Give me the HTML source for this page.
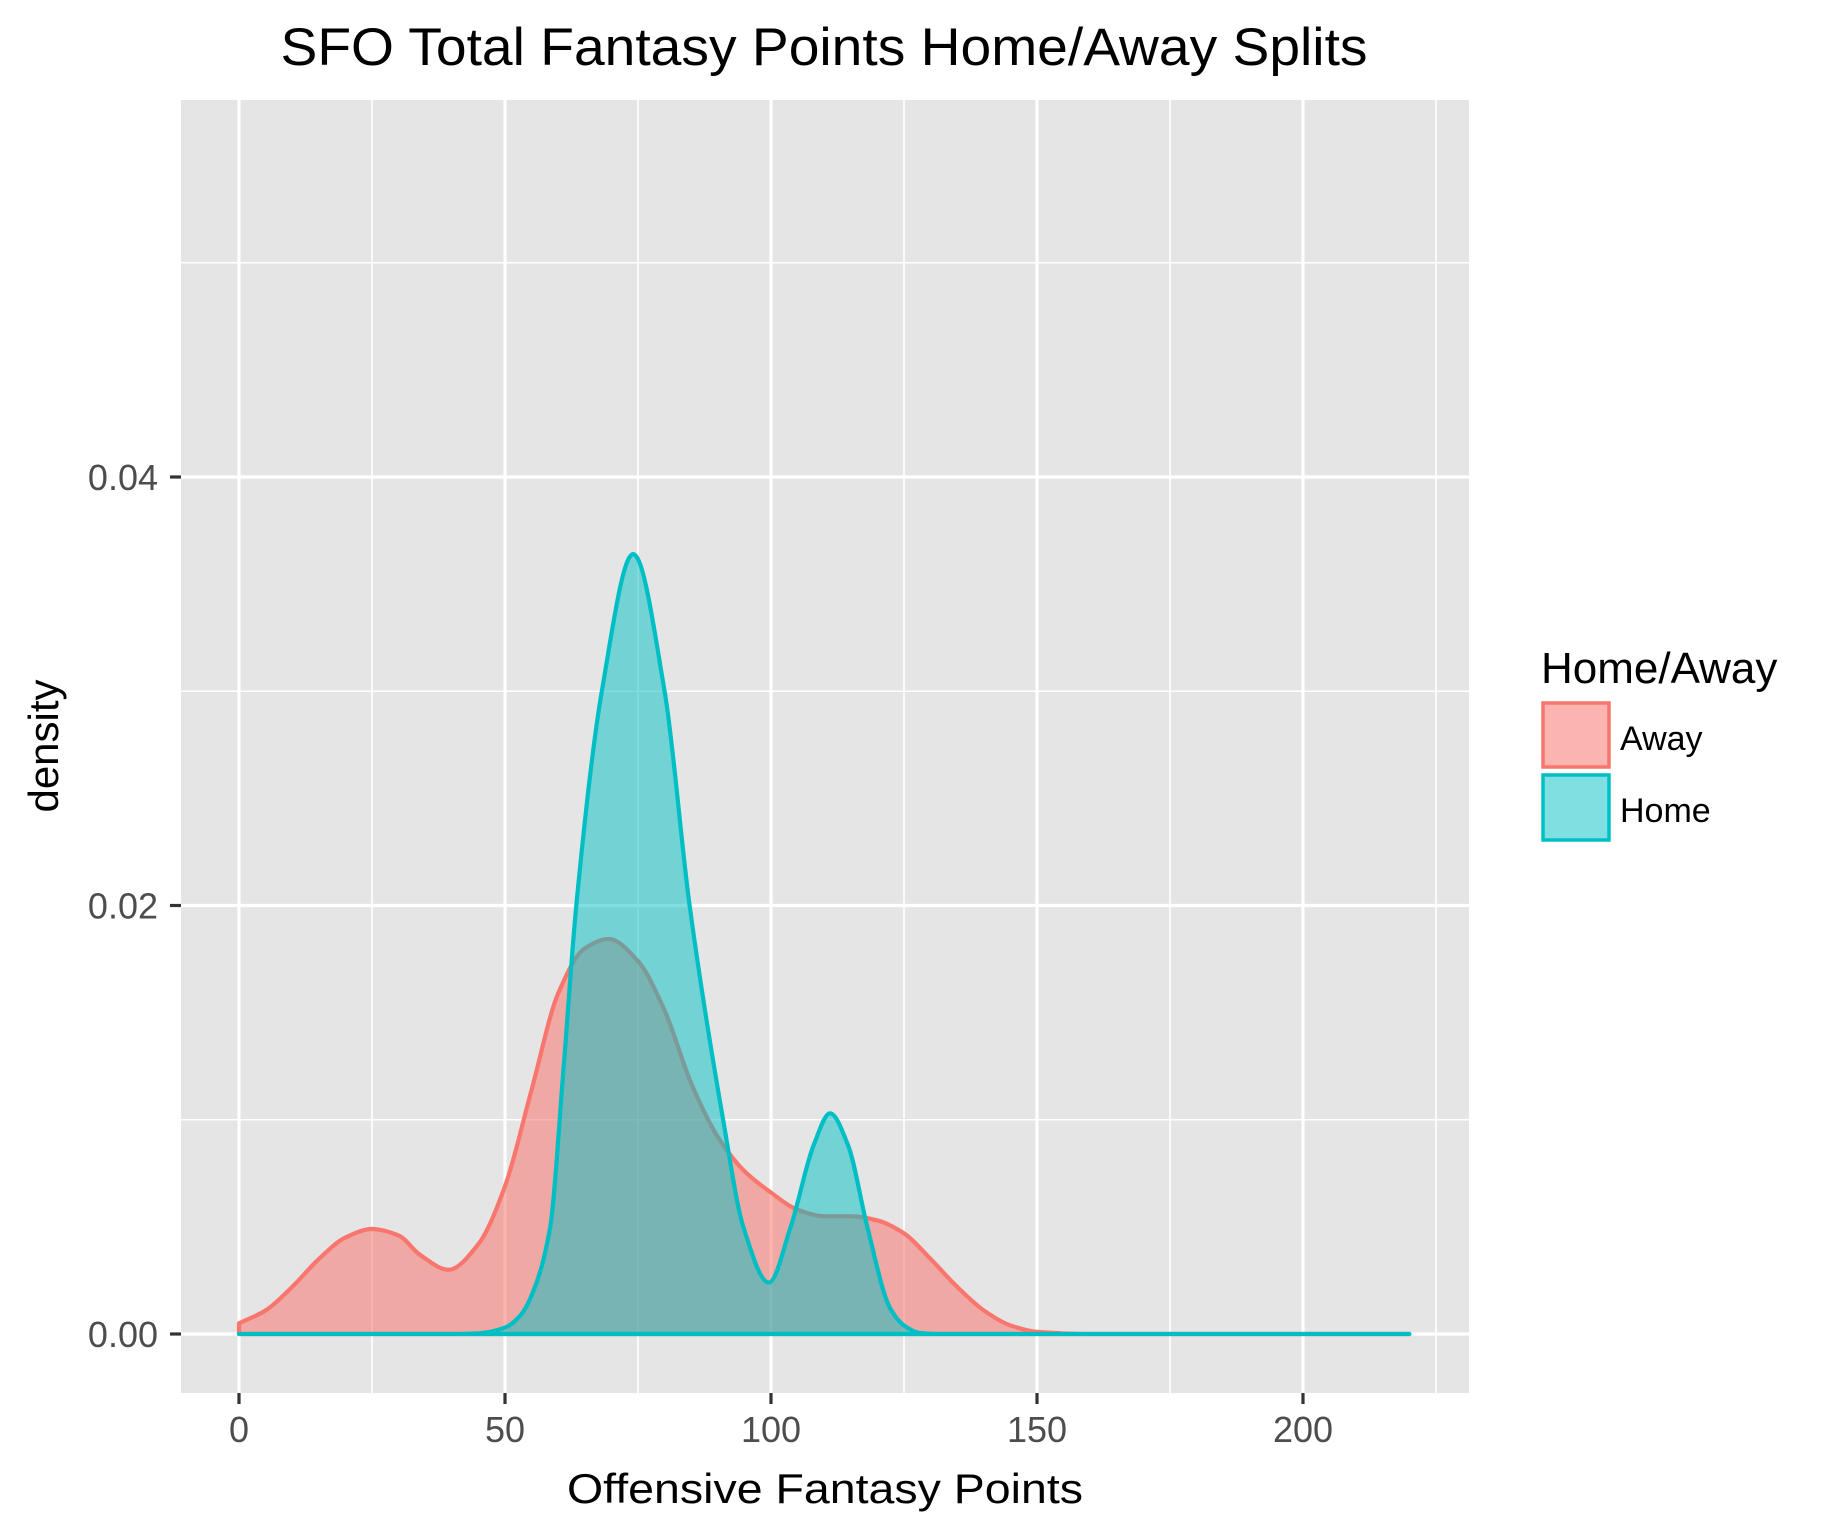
<!DOCTYPE html>
<html><head><meta charset="utf-8"><style>
html,body{margin:0;padding:0;background:#fff;}
svg{display:block;font-family:"Liberation Sans",Arial,sans-serif;}
</style></head><body>
<svg id="chart" width="1833" height="1529" viewBox="0 0 1833 1529" xmlns="http://www.w3.org/2000/svg">
<text x="824" y="65" font-size="53" text-anchor="middle" textLength="1087" lengthAdjust="spacingAndGlyphs" fill="#000">SFO Total Fantasy Points Home/Away Splits</text>
<rect x="181" y="100" width="1288" height="1293" fill="#E5E5E5"/>
<g id="grid"></g>
<g id="series"></g>
<g id="axes"></g>
<text x="825" y="1503" font-size="42" text-anchor="middle" textLength="516" lengthAdjust="spacingAndGlyphs" fill="#000">Offensive Fantasy Points</text>
<text x="0" y="0" font-size="42" text-anchor="middle" transform="translate(58,746) rotate(-90)" fill="#000">density</text>
<g>
<text x="1541" y="683" font-size="44" fill="#000">Home/Away</text>
<rect x="1543" y="703" width="66" height="64" fill="#F8766D" fill-opacity="0.55" stroke="#F8766D" stroke-width="3.5"/>
<text x="1620" y="750" font-size="34" fill="#000">Away</text>
<rect x="1543" y="775" width="66" height="65" fill="#00BFC4" fill-opacity="0.5" stroke="#00BFC4" stroke-width="3.5"/>
<text x="1620" y="822" font-size="34" fill="#000">Home</text>
</g>
</svg>
<script>
const awayX = [0,5,10,15,20,25,30,34,39.4,45,50,55,60,65,69.5,75,80,85,90,95,100,105,110,115,120,125,130,135,140,145,150,160,220];
const awayY = [0.0005,0.0011,0.0022,0.0035,0.0045,0.0049,0.0046,0.0037,0.0030,0.0042,0.0069,0.0114,0.0159,0.0180,0.01844,0.0174,0.0151,0.0117,0.0092,0.0076,0.0066,0.0058,0.0055,0.0055,0.0053,0.0047,0.0035,0.0022,0.0011,0.0004,0.0001,0,0];
const homeX = [0,40,45,50,53,55,58.5,61,63.4,68.2,74.1,80,84.7,91,94.8,99.6,103.7,108,111.1,114.5,118.1,122.4,125,128,132,220];
const homeY = [0,0,0.00003,0.0003,0.0009,0.0018,0.005,0.0124,0.020,0.030,0.0364,0.030,0.020,0.010,0.005,0.0024,0.005,0.0088,0.0103,0.0088,0.005,0.0012,0.0004,0.00005,0,0];
const xTicks = [0,50,100,150,200];
const xTickLabels = ["0","50","100","150","200"];
const xMinor = [25,75,125,175,225];
const yTicks = [0,0.02,0.04];
const yTickLabels = ["0.00","0.02","0.04"];
const yMinor = [0.01,0.03,0.05];

const NS = "http://www.w3.org/2000/svg";
const PX = {l:181, r:1469, t:100, b:1393};
function xs(v){ return 239 + v * 5.32; }
function ys(v){ return 1334 - v * 21425; }
function mk(tag, attrs, parent){
  const e = document.createElementNS(NS, tag);
  for (const k in attrs) e.setAttribute(k, attrs[k]);
  parent.appendChild(e);
  return e;
}
const grid = document.getElementById('grid');
xMinor.forEach(v => {
  const l = mk('line', {x1:xs(v), x2:xs(v), y1:PX.t, y2:PX.b, stroke:'#fff', 'stroke-width':1.6}, grid);
  
  
});
yMinor.forEach(v => {
  const l = mk('line', {x1:PX.l, x2:PX.r, y1:ys(v), y2:ys(v), stroke:'#fff', 'stroke-width':1.6}, grid);
  
  
});
xTicks.forEach(v => {
  const l = mk('line', {x1:xs(v), x2:xs(v), y1:PX.t, y2:PX.b, stroke:'#fff', 'stroke-width':3.2}, grid);
  
  
});
yTicks.forEach(v => {
  const l = mk('line', {x1:PX.l, x2:PX.r, y1:ys(v), y2:ys(v), stroke:'#fff', 'stroke-width':3.2}, grid);
  
  
});

function curvePath(X, Y){
  const px = X.map(xs), py = Y.map(ys);
  const n = px.length;
  const d = [], m = new Array(n);
  for (let i = 0; i < n-1; i++) d.push((py[i+1]-py[i])/(px[i+1]-px[i]));
  m[0] = d[0]; m[n-1] = d[n-2];
  for (let i = 1; i < n-1; i++){
    if (d[i-1]*d[i] <= 0) m[i] = 0;
    else {
      const h0 = px[i]-px[i-1], h1 = px[i+1]-px[i];
      const w1 = 2*h1+h0, w2 = h1+2*h0;
      m[i] = (w1+w2)/(w1/d[i-1] + w2/d[i]);
    }
  }
  let s = 'M' + px[0] + ',' + py[0];
  for (let i = 0; i < n-1; i++){
    const h = (px[i+1]-px[i])/3;
    s += ' C' + (px[i]+h) + ',' + (py[i]+m[i]*h) + ' ' + (px[i+1]-h) + ',' + (py[i+1]-m[i+1]*h) + ' ' + px[i+1] + ',' + py[i+1];
  }
  return s;
}
const series = document.getElementById('series');
function drawSeries(X, Y, color, op, name){
  const line = curvePath(X, Y);
  const area = line + ' L' + xs(X[X.length-1]) + ',' + ys(0) + ' L' + xs(X[0]) + ',' + ys(0) + ' Z';
  const a = mk('path', {d:area, fill:color, 'fill-opacity':op, stroke:'none'}, series);
  
  
  const o = mk('path', {d:area, fill:'none', stroke:color, 'stroke-width':4.2, 'stroke-linejoin':'round'}, series);
  
  
}
drawSeries(awayX, awayY, '#F8766D', 0.55, 'away');
drawSeries(homeX, homeY, '#00BFC4', 0.5, 'home');

const axes = document.getElementById('axes');
xTicks.forEach((v,i) => {
  const t = mk('line', {x1:xs(v), x2:xs(v), y1:PX.b, y2:PX.b+11, stroke:'#333', 'stroke-width':3.2}, axes);
  
  
  const lb = mk('text', {x:xs(v), y:1442, 'font-size':36, 'text-anchor':'middle', fill:'#4D4D4D'}, axes);
  lb.textContent = xTickLabels[i];
  
  
});
yTicks.forEach((v,i) => {
  const t = mk('line', {x1:PX.l-11, x2:PX.l, y1:ys(v), y2:ys(v), stroke:'#333', 'stroke-width':3.2}, axes);
  
  
  const lb = mk('text', {x:158, y:ys(v)+13, 'font-size':36, 'text-anchor':'end', fill:'#4D4D4D'}, axes);
  lb.textContent = yTickLabels[i];
  
  
});
</script>
</body></html>
